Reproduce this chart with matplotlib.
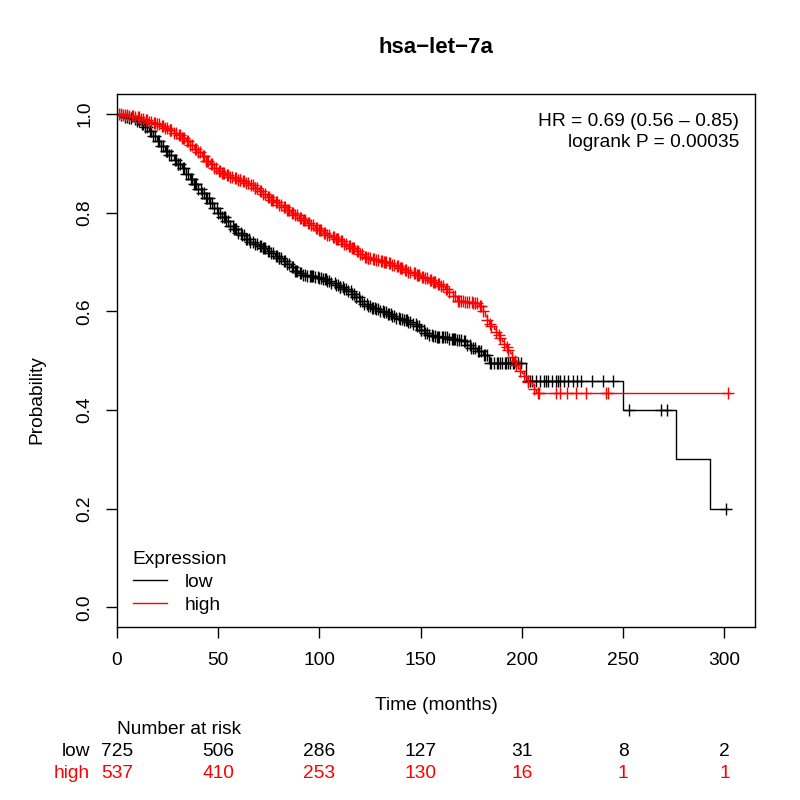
"""Kaplan-Meier style survival plot for hsa-let-7a (low vs high expression)."""

import numpy as np
import matplotlib
matplotlib.use('Agg')
import matplotlib.pyplot as plt
from matplotlib.lines import Line2D
from matplotlib.transforms import blended_transform_factory

plt.rcParams['font.family'] = ['Liberation Sans', 'DejaVu Sans']

TITLE = 'hsa\u2212let\u22127a'
GROUPS = ['low', 'high']
COLORS = ['black', '#ff0000']
HR_TEXT = 'HR = 0.69 (0.56 \u2013 0.85)\nlogrank P = 0.00035'
FS = 13.8

# step curves: event times (months) and survival after them
low_t = [0, 2, 4, 6, 8, 10, 12, 14, 16, 18, 20, 22, 24, 26, 28, 30, 32, 34,
         36, 38, 40, 42, 44, 46, 48, 50, 52, 54, 56, 58, 60, 62, 64, 66, 68,
         70, 72, 74, 76, 78, 80, 82, 84, 86, 88, 90, 92, 94, 96, 98, 100, 102,
         104, 106, 108, 110, 112, 114, 116, 118, 120, 122, 124, 126, 128, 130,
         132, 134, 136, 138, 140, 142, 144, 146, 148, 150, 152, 154, 156, 158,
         160, 164, 168, 171, 173, 175, 178, 181, 184, 202, 250, 276, 293, 302]
low_s = [1.0, 0.998, 0.995, 0.993, 0.99, 0.986, 0.98, 0.973, 0.965, 0.955,
         0.945, 0.935, 0.925, 0.917, 0.908, 0.899, 0.89, 0.879, 0.868, 0.858,
         0.849, 0.84, 0.83, 0.82, 0.809, 0.8, 0.791, 0.783, 0.774, 0.767,
         0.76, 0.754, 0.747, 0.741, 0.737, 0.733, 0.728, 0.723, 0.718, 0.713,
         0.708, 0.703, 0.697, 0.69, 0.683, 0.677, 0.674, 0.672, 0.671, 0.67,
         0.668, 0.665, 0.661, 0.657, 0.653, 0.65, 0.646, 0.642, 0.636, 0.629,
         0.622, 0.616, 0.611, 0.608, 0.605, 0.601, 0.598, 0.594, 0.59, 0.587,
         0.585, 0.582, 0.579, 0.575, 0.57, 0.562, 0.556, 0.553, 0.551, 0.549,
         0.548, 0.545, 0.542, 0.54, 0.533, 0.526, 0.52, 0.512, 0.495, 0.46,
         0.40, 0.30, 0.20, 0.20]

high_t = [0, 3, 6, 9, 12, 14, 16, 18, 20, 22, 24, 26, 28, 30, 32, 34, 36, 38,
          40, 42, 44, 46, 48, 50, 52, 54, 56, 58, 60, 62, 64, 66, 68, 70, 72,
          74, 76, 78, 80, 82, 84, 86, 88, 90, 92, 94, 96, 98, 100, 102, 104,
          106, 108, 110, 112, 114, 116, 118, 120, 122, 124, 126, 128, 130, 132,
          134, 136, 138, 140, 142, 144, 146, 148, 150, 152, 154, 156, 158, 160,
          162, 164, 166, 168, 172, 176, 179, 181, 182, 183, 184, 185, 186, 187,
          188, 189, 190, 191, 192, 193, 194, 195, 196, 197, 198, 199, 200, 201,
          202, 203, 205, 206, 207, 303]
high_s = [1.0, 0.998, 0.996, 0.994, 0.991, 0.988, 0.985, 0.982, 0.979, 0.975,
          0.971, 0.967, 0.962, 0.957, 0.951, 0.945, 0.938, 0.93, 0.923, 0.915,
          0.906, 0.898, 0.891, 0.885, 0.88, 0.876, 0.873, 0.87, 0.867, 0.864,
          0.861, 0.857, 0.851, 0.845, 0.838, 0.832, 0.826, 0.821, 0.816,
          0.811, 0.805, 0.8, 0.795, 0.79, 0.785, 0.78, 0.775, 0.77, 0.765,
          0.76, 0.755, 0.75, 0.746, 0.742, 0.737, 0.733, 0.728, 0.722, 0.716,
          0.711, 0.708, 0.706, 0.704, 0.702, 0.7, 0.698, 0.695, 0.692, 0.689,
          0.685, 0.681, 0.677, 0.673, 0.67, 0.667, 0.663, 0.659, 0.655, 0.651,
          0.646, 0.64, 0.632, 0.622, 0.62, 0.617, 0.612, 0.6, 0.59, 0.582,
          0.575, 0.57, 0.565, 0.558, 0.552, 0.546, 0.54, 0.534, 0.528, 0.521,
          0.515, 0.507, 0.5, 0.492, 0.485, 0.48, 0.475, 0.47, 0.466, 0.458,
          0.45, 0.442, 0.434, 0.434]

# censoring times (months)
low_cens = [2, 4, 5, 6, 7, 9, 10, 11, 13, 14, 15, 17, 18, 19, 21, 22, 23, 25,
            26, 27, 29, 30, 31, 33, 34, 35, 37, 38, 39, 40, 42, 43, 44, 46, 47,
            48, 50, 51, 52, 54, 55, 56, 58, 59, 60, 62, 63, 64, 66, 67, 68, 69,
            71, 72, 73, 75, 76, 77, 79, 80, 81, 83, 84, 85, 87, 88, 89, 91, 92,
            93, 94, 96, 97, 98, 100, 101, 102, 104, 105, 106, 108, 109, 110,
            112, 113, 114, 116, 117, 118, 120, 121, 122, 124, 125, 126, 128,
            129, 130, 132, 133, 134, 136, 137, 138, 140, 141, 142, 144, 145,
            146, 148, 149, 150, 152, 153, 154, 156, 157, 158, 159, 161, 162,
            163, 164, 166, 167, 168, 169, 170, 172, 173, 175, 176, 177, 179,
            180, 182, 183, 185, 186, 188, 189, 190, 192, 193, 194, 196, 198,
            203, 205, 207, 209, 211, 213, 215, 217, 219, 221, 223, 225, 227,
            229, 234.5, 240, 245, 253, 268.7, 271.7, 301,
            12.5, 16.5, 20.5, 24.5, 28.5, 32.5, 36.5, 41.5, 45.5, 49.5, 53.5,
            57.5, 61.5, 65.5, 70.5, 74.5, 78.5, 82.5, 86.5, 90.5, 95.5, 99.5,
            103.5, 107.5, 111.5, 115.5, 119.5, 123.5, 127.5, 131.5, 135.5,
            139.5, 143.5, 147.5, 151.5, 155.5, 160.5, 165.5, 171.5, 174.5,
            178.5, 181.5, 184.5, 187.5, 191.5, 195.5, 199.5, 204, 212, 218,
            24.8, 30.2, 38.6, 44.3, 52.7, 58.4, 64.2, 72.6, 80.3, 88.7, 96.4,
            102.6, 110.4, 118.3, 126.6, 134.4, 142.7, 150.4, 158.6, 166.4]
high_cens = [1, 2, 3, 4, 5, 6, 8, 9, 11, 12, 13, 15, 16, 17, 19, 20, 21, 23,
             24, 25, 27, 28, 29, 31, 32, 33, 35, 36, 37, 39, 40, 41, 43, 44, 45,
             47, 48, 49, 51, 52, 53, 55, 56, 57, 59, 60, 61, 63, 64, 65, 67, 68,
             69, 71, 72, 73, 75, 76, 77, 79, 80, 81, 83, 84, 85, 87, 88, 89, 91,
             92, 93, 95, 96, 97, 99, 100, 101, 103, 104, 105, 107, 108, 109,
             111, 112, 113, 115, 116, 117, 119, 120, 121, 123, 124, 125, 127,
             128, 129, 131, 132, 133, 135, 136, 137, 139, 140, 141, 143, 144,
             145, 147, 148, 149, 151, 152, 153, 155, 156, 157, 159, 160, 161,
             163, 164, 166, 167, 169, 170, 171, 172, 173, 174, 176, 177, 178,
             180, 181, 183, 185, 187, 189, 191, 193, 195, 197, 199, 201, 203,
             206, 208, 208.5, 216.6, 218.6, 222.4, 226.8, 231.7, 241.6, 242.4,
             302,
             7.5, 10.5, 14.5, 18.5, 22.5, 26.5, 30.5, 34.5, 38.5, 42.5, 46.5,
             50.5, 54.5, 58.5, 62.5, 66.5, 70.5, 74.5, 78.5, 82.5, 86.5, 90.5,
             94.5, 98.5, 102.5, 106.5, 110.5, 114.5, 118.5, 122.5, 126.5,
             130.5, 134.5, 138.5, 142.5, 146.5, 150.5, 154.5, 158.5, 162.5,
             168.5, 175.5, 179.5, 184.5, 188.5, 192.5, 196.5,
             26.2, 32.7, 44.4, 52.2, 60.6, 68.3, 76.7, 84.4, 92.6, 100.3,
             108.7, 116.4, 124.2, 132.6, 140.3, 148.7, 156.4]

risk_times = [0, 50, 100, 150, 200, 250, 300]
risk_low = [725, 506, 286, 127, 31, 8, 2]
risk_high = [537, 410, 253, 130, 16, 1, 1]

x_ticks = [0, 50, 100, 150, 200, 250, 300]
y_ticks = [0.0, 0.2, 0.4, 0.6, 0.8, 1.0]


def surv_at(times, surv, when):
    idx = np.searchsorted(np.asarray(times), np.asarray(when), side='right') - 1
    return np.asarray(surv)[idx]


fig = plt.figure(figsize=(8, 8), dpi=100)
ax = fig.add_axes([0.146, 0.216, 0.7975, 0.666])

curves = [(low_t, low_s, low_cens), (high_t, high_s, high_cens)]
for (t, s, cens), col in zip(curves, COLORS):
    ax.step(t, s, where='post', color=col, lw=1.0)
    ax.plot(cens, surv_at(t, s, cens), ls='none', marker='+', ms=9,
            mew=1.0, color=col)

ax.set_xlim(0, 315)
ax.set_ylim(-0.04, 1.04)
ax.set_xticks(x_ticks)
ax.set_yticks(y_ticks)
ax.set_xticklabels([str(v) for v in x_ticks])
ax.set_yticklabels([f'{v:.1f}' for v in y_ticks], rotation=90, va='center')
ax.tick_params(length=8, width=1, labelsize=FS)
ax.tick_params(axis='x', pad=10)
ax.tick_params(axis='y', pad=9)
for sp in ax.spines.values():
    sp.set_linewidth(1)

ax.text(0.976, 0.965, HR_TEXT, transform=ax.transAxes, ha='right', va='top',
        fontsize=FS, linespacing=1.3)

handles = [Line2D([], [], color=c, lw=1.0) for c in COLORS]
ax.legend(handles, GROUPS, title='Expression', loc='lower left',
          bbox_to_anchor=(-0.008, -0.015), frameon=False, alignment='left',
          fontsize=FS, title_fontsize=FS, handlelength=1.8,
          handletextpad=0.9, labelspacing=0.3, borderpad=0.6)

fig.text(0.545, 0.941, TITLE, ha='center', va='center', fontsize=16,
         fontweight='bold')
fig.text(0.545, 1 - 706 / 800, 'Time (months)', ha='center', va='center',
         fontsize=FS)
fig.text(0.046, 0.5, 'Probability', rotation=90, ha='center', va='center',
         fontsize=FS)

# number-at-risk table below the plot, aligned to the time axis
tr = blended_transform_factory(ax.transData, fig.transFigure)
fig.text(0, 1 - 730 / 800, 'Number at risk', transform=tr, ha='left',
         va='center', fontsize=FS)
rows = [(risk_low, 1 - 751 / 800), (risk_high, 1 - 773 / 800)]
for (counts, y), name, col in zip(rows, GROUPS, COLORS):
    fig.text(0.1125, y, name, ha='right', va='center', fontsize=FS, color=col)
    for tx, n in zip(risk_times, counts):
        fig.text(tx, y, str(n), transform=tr, ha='center', va='center',
                 fontsize=FS, color=col)

fig.savefig('out.png', dpi=100)
